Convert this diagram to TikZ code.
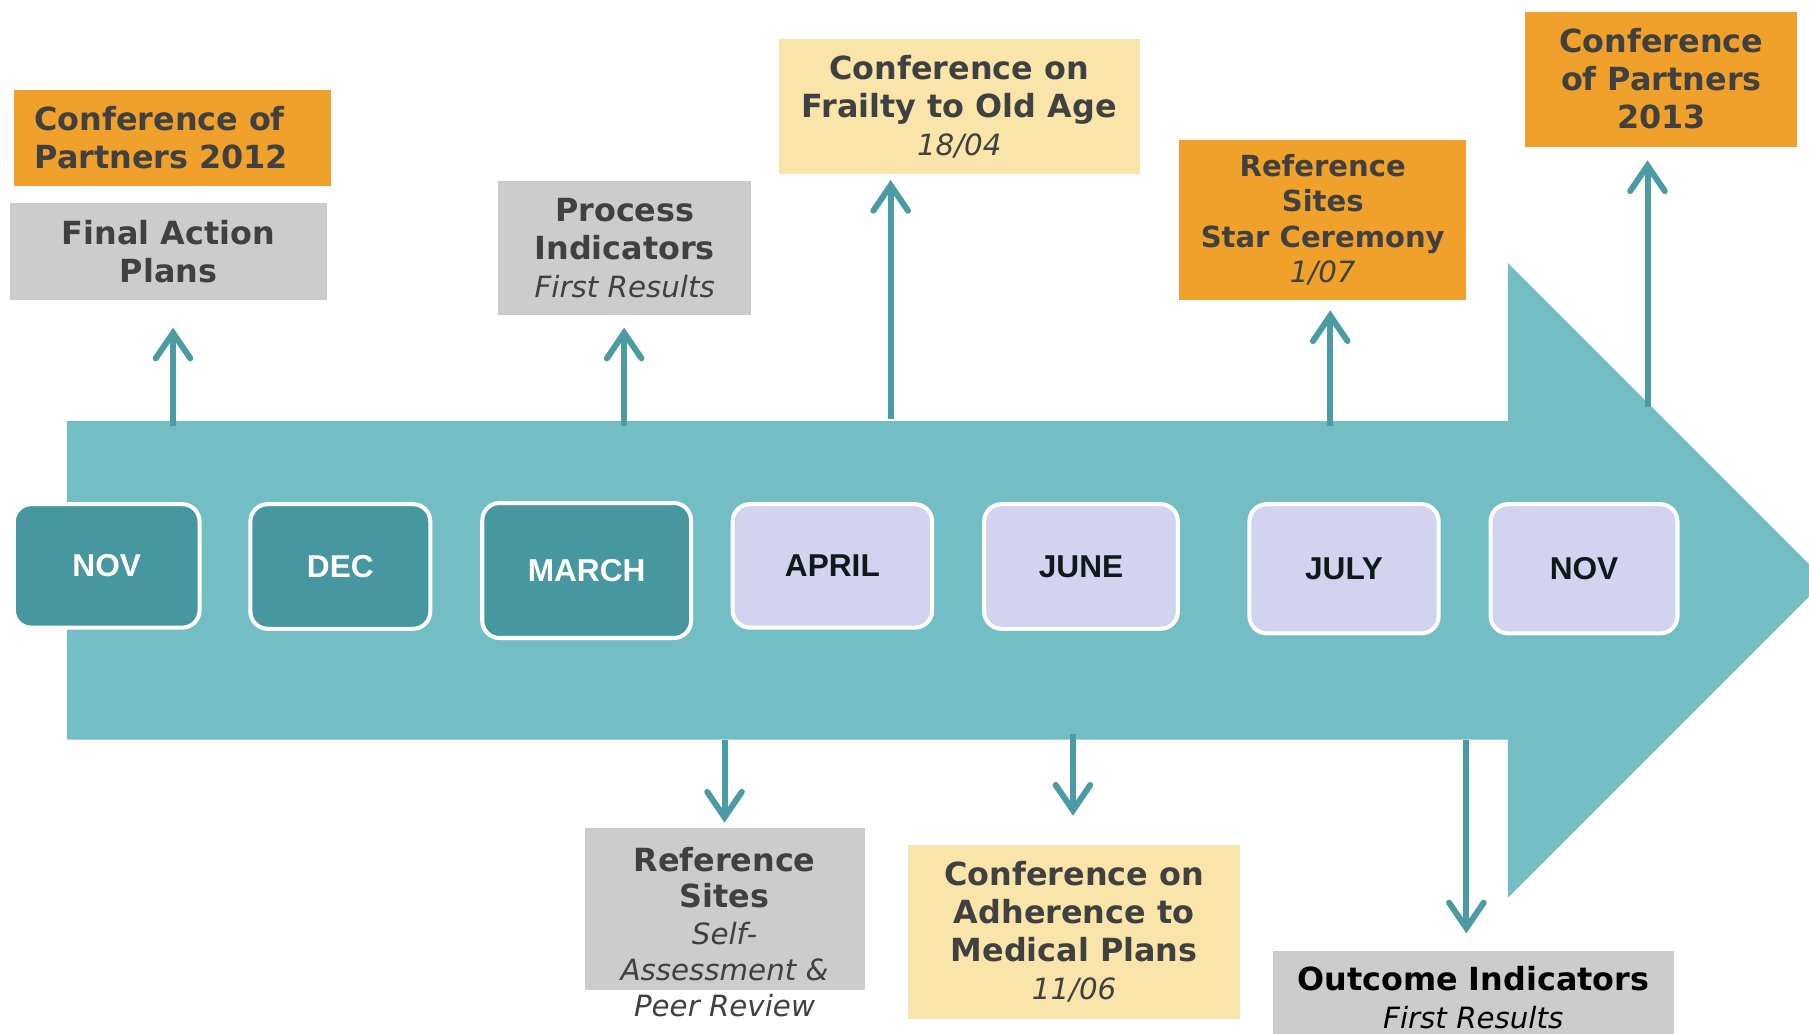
\documentclass[tikz,border=0pt]{standalone}
\usepackage{fontspec}
\setmainfont{DejaVu Sans}
\newfontfamily\monthfont{Liberation Sans}
\usetikzlibrary{arrows.meta}
\definecolor{bodyteal}{HTML}{73BEC4}
\definecolor{darkteal}{HTML}{4797A0}
\definecolor{lavender}{HTML}{D2D3EF}
\definecolor{orangebox}{HTML}{F0A12C}
\definecolor{graybox}{HTML}{CCCCCC}
\definecolor{yellowbox}{HTML}{F9E4AA}
\definecolor{txtgray}{HTML}{404040}
\definecolor{conncol}{HTML}{4A9BA3}
\definecolor{monthdark}{HTML}{0D1A1A}
\newcommand{\itl}[1]{{\mdseries\itshape\fontsize{12.7}{16.5}\selectfont #1}}
\begin{document}
\begin{tikzpicture}[x=0.5pt,y=-0.5pt,
  month/.style={rounded corners=7.5pt, draw=white, line width=1.75pt, inner sep=0pt,
    font=\monthfont\bfseries\fontsize{13.7}{16}\selectfont},
  monthA/.style={month, fill=darkteal, text=white},
  monthB/.style={month, fill=lavender, text=monthdark},
  callout/.style={inner sep=0pt, align=center, text=txtgray,
    font=\bfseries\fontsize{13.8}{16.5}\selectfont},
  orangec/.style={callout, fill=orangebox},
  grayc/.style={callout, fill=graybox},
  yellowc/.style={callout, fill=yellowbox},
  conn/.style={draw=conncol, line width=2.6pt,
    -{Straight Barb[length=11pt,width=15pt,line cap=round,line join=miter]}}
]
\useasboundingbox (0,0) rectangle (1568,896);
\clip (0,0) rectangle (1568,896);
% timeline arrow
\fill[bodyteal] (58,365) -- (1307,365) -- (1307,228) -- (1582,503) -- (1307,778) -- (1307,641) -- (58,641) -- cycle;
% months
\node[monthA, minimum width=80.5pt, minimum height=53.5pt] (nov1) at (92.5,490.5) {NOV};
\node[monthA, minimum width=78pt, minimum height=54pt] (dec) at (295,491) {DEC};
\node[monthA, minimum width=90.5pt, minimum height=58.5pt] (march) at (508.5,494.5) {MARCH};
\node[monthB, minimum width=86.5pt, minimum height=53.5pt] (april) at (721.5,490.5) {APRIL};
\node[monthB, minimum width=84pt, minimum height=54pt] (june) at (937,491) {JUNE};
\node[monthB, minimum width=82pt, minimum height=56pt] (july) at (1165,493) {JULY};
\node[monthB, minimum width=81pt, minimum height=56pt] (nov2) at (1373,493) {NOV};
% upper callouts
\node[orangec, align=left, text width=119.5pt, inner xsep=9pt, minimum height=41.5pt] (c1) at (149.5,119.5) {Conference of\\Partners 2012};
\node[grayc, minimum width=137pt, minimum height=42pt] (c2) at (146,218) {Final Action\\Plans};
\node[grayc, minimum width=109.5pt, minimum height=58pt] (c3) at (541.5,215) {Process\\Indicators\\\itl{First Results}};
\node[yellowc, minimum width=156.5pt, minimum height=58.5pt] (c4) at (831.5,92.5) {Conference on\\Frailty to Old Age\\\itl{18/04}};
\node[orangec, minimum width=124.5pt, minimum height=69.5pt, font=\bfseries\fontsize{12.6}{15.3}\selectfont] (c5) at (1146.5,190.5) {Reference\\Sites\\Star Ceremony\\\itl{1/07}};
\node[orangec, minimum width=118pt, minimum height=58.5pt] (c6) at (1440,68.5) {Conference\\of Partners\\2013};
% lower callouts
\node[fill=graybox, minimum width=121.5pt, minimum height=70pt, inner sep=0pt] (c7) at (628.5,788) {};
\node[callout, font=\bfseries\fontsize{13.8}{15.75}\selectfont] (c7t) at (628,808) {Reference\\Sites\\\itl{Self-}\\\itl{Assessment \&}\\\itl{Peer Review}};
\node[yellowc, minimum width=144pt, minimum height=75.5pt] (c8) at (931,807.5) {Conference on\\Adherence to\\Medical Plans\\\itl{11/06}};
\node[grayc, text=black, minimum width=174pt, minimum height=41pt] (c9) at (1277,865) {Outcome Indicators\\\itl{First Results}};
% connector end points
\coordinate (u1s) at (150,369);  \coordinate (u1e) at (150,284);
\coordinate (u2s) at (541,369);  \coordinate (u2e) at (541,284);
\coordinate (u3s) at (772,363);  \coordinate (u3e) at (772,156);
\coordinate (u4s) at (1153,369); \coordinate (u4e) at (1153,269);
\coordinate (u5s) at (1428,353); \coordinate (u5e) at (1428,139);
\coordinate (d1s) at (628,641);  \coordinate (d1e) at (628,713);
\coordinate (d2s) at (930,636);  \coordinate (d2e) at (930,707);
\coordinate (d3s) at (1271,641); \coordinate (d3e) at (1271,809);
\draw[conn] (u1s) -- (u1e);
\draw[conn] (u2s) -- (u2e);
\draw[conn] (u3s) -- (u3e);
\draw[conn] (u4s) -- (u4e);
\draw[conn] (u5s) -- (u5e);
\draw[conn] (d1s) -- (d1e);
\draw[conn] (d2s) -- (d2e);
\draw[conn] (d3s) -- (d3e);
\end{tikzpicture}
\end{document}
